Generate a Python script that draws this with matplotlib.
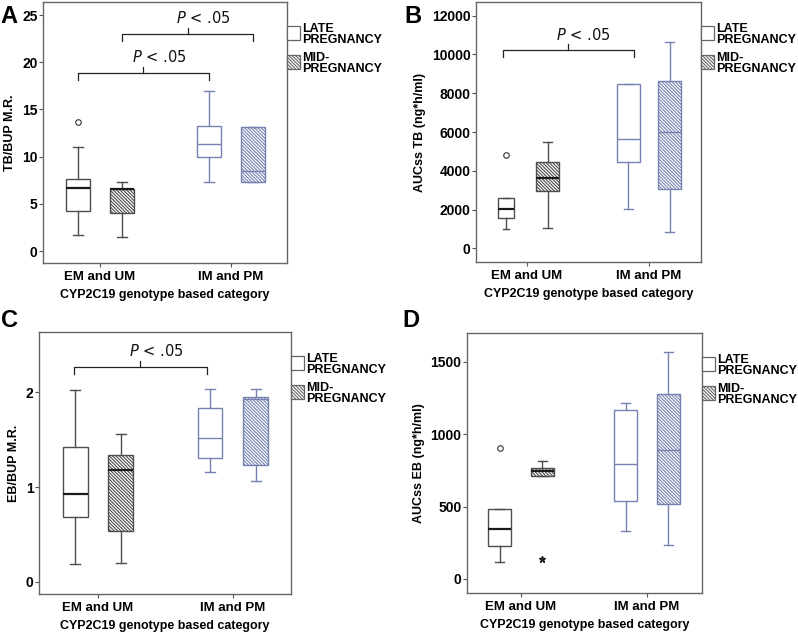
import matplotlib
matplotlib.use("Agg")
import matplotlib.pyplot as plt
from matplotlib.patches import Rectangle

plt.rcParams["font.family"] = ["Liberation Sans", "DejaVu Sans"]
plt.rcParams["hatch.linewidth"] = 0.8

categories = ["EM and UM", "IM and PM"]

# box summaries: [whisker low, Q1, median, Q3, whisker high]
# first entry = EM and UM, second = IM and PM
tb_late = [[1.66, 4.27, 6.7, 7.6, 11.05], [7.27, 10.0, 11.3, 13.2, 16.9]]
tb_mid = [[1.48, 4.0, 6.55, 6.6, 7.35], [7.3, 7.35, 8.47, 13.1, 13.1]]
tb_late_out = [[13.7], []]

auc_tb_late = [[980, 1547, 2011, 2578, 2578], [2026, 4434, 5620, 8455, 8455]]
auc_tb_mid = [[1031, 2954, 3640, 4465, 5497], [825, 3057, 5981, 8642, 10621]]
auc_tb_late_out = [[4811], []]

eb_late = [[0.187, 0.687, 0.923, 1.42, 2.02], [1.162, 1.31, 1.515, 1.835, 2.04]]
eb_mid = [[0.194, 0.532, 1.183, 1.342, 1.557], [1.06, 1.229, 1.93, 1.955, 2.04]]

auc_eb_late = [[117, 228, 345, 481, 481], [331, 538, 793, 1166, 1213]]
auc_eb_mid = [[713, 713, 745, 768, 812], [232, 518, 888, 1275, 1569]]
auc_eb_late_out = [[906], []]
auc_eb_mid_extreme = [[136], []]

EM_COL = "#4d4d4d"
IM_COL = "#7882b0"
HATCH = "\\" * 10


def summary(s, fl):
    return dict(whislo=s[0], q1=s[1], med=s[2], q3=s[3], whishi=s[4], fliers=fl)


def draw_boxes(ax, late, mid, late_out=None, mid_ext=None, late_w=(0.185, 0.185)):
    off = 0.17
    for i in range(2):
        col = EM_COL if i == 0 else IM_COL
        medcol = "#1a1a1a" if i == 0 else IM_COL
        medlw = 1.6 if i == 0 else 1.0
        groups = [(late[i], late_out[i] if late_out else [], i - off, late_w[i], None),
                  (mid[i], [], i + off, 0.185, HATCH)]
        for summ, outs, pos, w, hatch in groups:
            ax.bxp([summary(summ, outs)], positions=[pos], widths=w, capwidths=w * 0.4,
                   patch_artist=True, manage_ticks=False,
                   boxprops=dict(facecolor="white", edgecolor=col, linewidth=1.0, hatch=hatch),
                   whiskerprops=dict(color=col, linewidth=1.0),
                   capprops=dict(color=col, linewidth=1.0),
                   medianprops=dict(color=medcol, linewidth=medlw),
                   flierprops=dict(marker="o", markerfacecolor="none", markeredgecolor="#333333",
                                   markersize=4, markeredgewidth=0.8))
        if mid_ext and mid_ext[i]:
            ax.plot([i + off] * len(mid_ext[i]), mid_ext[i], marker="*", color="#222222",
                    linestyle="none", markersize=5)


def bracket(ax, x0, x1, y, text):
    lo, hi = ax.get_ylim()
    d = 0.027 * (hi - lo)
    mid = (x0 + x1) / 2
    ax.plot([x0, x0, x1, x1], [y - d, y, y, y - d], color="#222222", lw=0.9, clip_on=False)
    ax.plot([mid, mid], [y, y + d * 0.85], color="#222222", lw=0.9, clip_on=False)
    ax.text(mid + 0.12, y + 2.2 * d, text, ha="center", va="center", fontsize=10.5,
            family="DejaVu Sans", color="#111111")


def style(ax, xlim, ylim, yticks, ylabel):
    ax.set_xlim(*xlim)
    ax.set_ylim(*ylim)
    ax.set_yticks(yticks)
    ax.set_yticklabels([str(t) for t in yticks])
    ax.set_xticks([0, 1])
    ax.set_xticklabels(categories)
    ax.tick_params(direction="out", length=3, width=0.8, color="#555555")
    ax.tick_params(axis="y", pad=1, labelsize=10)
    ax.tick_params(axis="x", pad=3, labelsize=9.5)
    for lab in ax.get_xticklabels() + ax.get_yticklabels():
        lab.set_fontweight("bold")
    for sp in ax.spines.values():
        sp.set_color("#666666")
        sp.set_linewidth(1.0)
    ax.set_ylabel(ylabel, fontsize=9, fontweight="bold")
    ax.set_xlabel("CYP2C19 genotype based category", fontsize=9, fontweight="bold", labelpad=4)


def legend(fig, ax):
    pos = ax.get_position()
    W, H = fig.get_size_inches() * fig.dpi
    items = [("LATE\nPREGNANCY", None, 24), ("MID-\nPREGNANCY", HATCH, 53)]
    for label, hatch, top in items:
        fig.add_artist(Rectangle((pos.x1, pos.y1 - (top + 14) / H), 13 / W, 14 / H,
                                 transform=fig.transFigure, facecolor="white",
                                 edgecolor="#666666", linewidth=0.9, hatch=hatch))
        fig.text(pos.x1 + 15 / W, pos.y1 - (top - 3) / H, label, ha="left", va="top",
                 fontsize=9, fontweight="bold", linespacing=0.9)


fig = plt.figure(figsize=(7.98, 6.34), dpi=100)
W, H = 798, 634

def add_ax(l, t, r, b):
    return fig.add_axes([l / W, 1 - b / H, (r - l) / W, (b - t) / H])

axA = add_ax(43, 2, 287, 263)
axB = add_ax(476, 2, 701, 262)
axC = add_ax(39, 332, 291, 594)
axD = add_ax(467, 333, 702, 593)

# A
draw_boxes(axA, tb_late, tb_mid, late_out=tb_late_out)
style(axA, (-0.435, 1.427), (-1.27, 26.38), [0, 5, 10, 15, 20, 25], "TB/BUP M.R.")
bracket(axA, -0.17, 0.83, 18.86, r"$\mathit{P}$ < .05")
bracket(axA, 0.17, 1.17, 22.99, r"$\mathit{P}$ < .05")

# B
draw_boxes(axB, auc_tb_late, auc_tb_mid, late_out=auc_tb_late_out, late_w=(0.13, 0.19))
style(axB, (-0.418, 1.426), (-706, 12706), [0, 2000, 4000, 6000, 8000, 10000, 12000],
      "AUCss TB (ng*h/ml)")
bracket(axB, -0.2, 0.88, 10224, r"$\mathit{P}$ < .05")

# C
draw_boxes(axC, eb_late, eb_mid)
style(axC, (-0.437, 1.43), (-0.13, 2.637), [0, 1, 2], "EB/BUP M.R.")
bracket(axC, -0.178, 0.807, 2.271, r"$\mathit{P}$ < .05")

# D
draw_boxes(axD, auc_eb_late, auc_eb_mid, late_out=auc_eb_late_out, mid_ext=auc_eb_mid_extreme)
style(axD, (-0.429, 1.437), (-97, 1698), [0, 500, 1000, 1500], "AUCss EB (ng*h/ml)")

for ax in (axA, axB, axC, axD):
    legend(fig, ax)

for letter, x, y in [("A", 0, 5), ("B", 404, 5), ("C", 1, 309), ("D", 402, 309)]:
    fig.text(x / W, 1 - y / H, letter, ha="left", va="top", fontsize=17, fontweight="bold")

fig.savefig("out.png", dpi=100)
